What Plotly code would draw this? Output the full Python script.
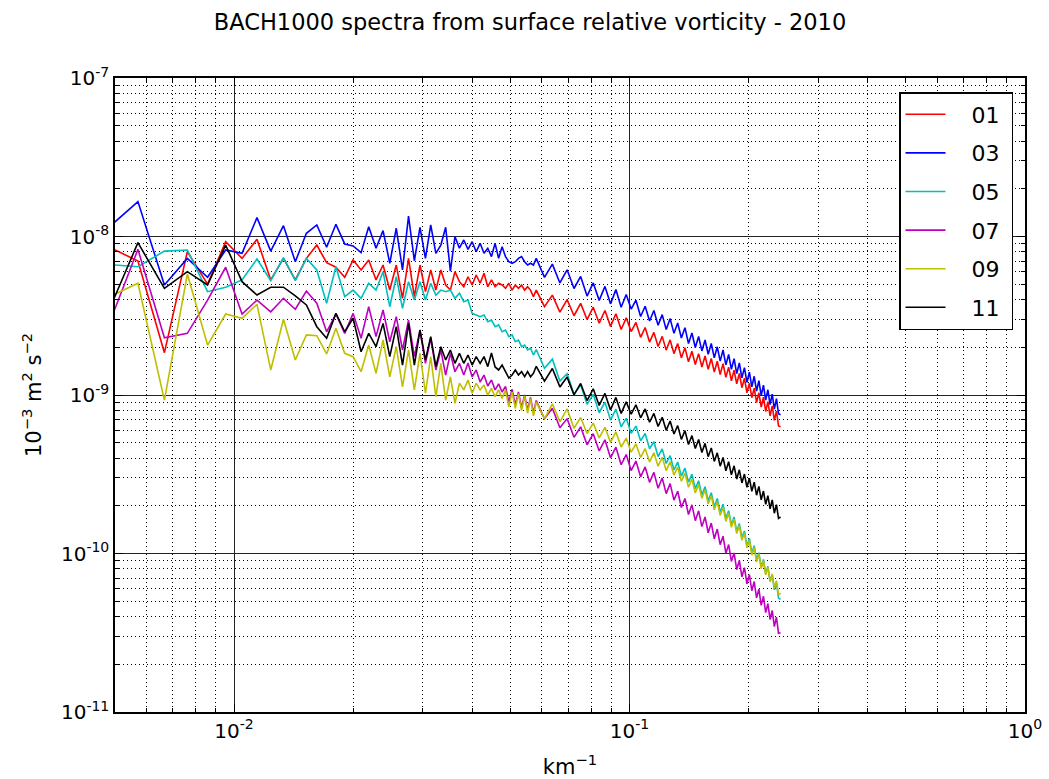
import numpy as np
import plotly.graph_objects as go

# ---------------- data ----------------
k_step = 1.0 / 1050.0            # km^-1 per wavenumber index
wavenumber_index = list(range(5, 61)) + list(range(61, 254, 3))

months = ["01", "03", "05", "07", "09", "11"]
colors = ["#ff0000", "#0000ff", "#00bfbf", "#bf00bf", "#bfbf00", "#000000"]

# log10 of spectral density (10^-3 m^2 s^-2)
log10_spec_01 = [
    -8.059, -8.155, -8.733, -8.096, -8.300, -8.033, -8.138, -8.018, -8.274, -8.138,
    -8.274, -8.138, -8.054, -8.165, -8.194, -8.257, -8.148, -8.211, -8.148, -8.274,
    -8.180, -8.338, -8.180, -8.390, -8.138, -8.380, -8.180, -8.348, -8.211, -8.338,
    -8.211, -8.306, -8.338, -8.222, -8.285, -8.317, -8.254, -8.306, -8.243, -8.295,
    -8.232, -8.317, -8.274, -8.317, -8.295, -8.306, -8.327, -8.295, -8.338, -8.306,
    -8.327, -8.306, -8.338, -8.317, -8.338, -8.380,
    -8.338, -8.443, -8.370, -8.477, -8.398, -8.500, -8.422, -8.524, -8.446, -8.547,
    -8.467, -8.567, -8.487, -8.587, -8.513, -8.600, -8.542, -8.636, -8.574, -8.666,
    -8.605, -8.694, -8.630, -8.717, -8.652, -8.739, -8.676, -8.765, -8.702, -8.790,
    -8.724, -8.808, -8.739, -8.823, -8.754, -8.838, -8.770, -8.855, -8.787, -8.871,
    -8.803, -8.889, -8.824, -8.910, -8.844, -8.930, -8.864, -8.954, -8.894, -8.986,
    -8.926, -9.017, -8.957, -9.047, -8.986, -9.076, -9.014, -9.104, -9.042, -9.131,
    -9.069, -9.160, -9.101, -9.195, -9.200,
]
log10_spec_03 = [
    -7.954, -7.780, -8.306, -8.138, -8.257, -8.085, -8.106, -7.881, -8.092, -7.932,
    -8.159, -7.980, -7.927, -8.068, -7.923, -8.047, -8.060, -8.102, -7.938, -8.074,
    -7.963, -8.169, -7.948, -8.211, -7.871, -8.153, -7.942, -8.138, -7.927, -8.106,
    -8.054, -7.942, -8.218, -8.001, -8.074, -8.022, -8.081, -8.033, -8.096, -8.043,
    -8.106, -8.074, -8.127, -8.043, -8.138, -8.064, -8.127, -8.159, -8.169, -8.159,
    -8.138, -8.127, -8.159, -8.180, -8.169, -8.180,
    -8.138, -8.258, -8.174, -8.293, -8.210, -8.328, -8.252, -8.376, -8.293, -8.403,
    -8.315, -8.425, -8.335, -8.446, -8.366, -8.458, -8.402, -8.505, -8.440, -8.533,
    -8.467, -8.560, -8.493, -8.587, -8.518, -8.611, -8.546, -8.640, -8.575, -8.675,
    -8.609, -8.700, -8.631, -8.722, -8.653, -8.743, -8.675, -8.766, -8.696, -8.786,
    -8.716, -8.810, -8.744, -8.838, -8.771, -8.865, -8.798, -8.892, -8.827, -8.921,
    -8.855, -8.948, -8.882, -8.975, -8.910, -9.004, -8.938, -9.032, -8.967, -9.060,
    -8.995, -9.089, -9.023, -9.118, -9.125,
]
log10_spec_05 = [
    -8.176, -8.191, -8.092, -8.085, -8.348, -8.320, -8.274, -8.142, -8.279, -8.134,
    -8.279, -8.138, -8.211, -8.421, -8.191, -8.380, -8.338, -8.390, -8.295, -8.338,
    -8.222, -8.443, -8.254, -8.453, -8.285, -8.401, -8.285, -8.401, -8.295, -8.369,
    -8.338, -8.348, -8.338, -8.390, -8.358, -8.411, -8.401, -8.485, -8.495, -8.506,
    -8.495, -8.538, -8.527, -8.569, -8.558, -8.601, -8.590, -8.632, -8.621, -8.664,
    -8.653, -8.695, -8.685, -8.716, -8.705, -8.748,
    -8.713, -8.831, -8.774, -8.912, -8.866, -8.995, -8.937, -9.059, -8.996, -9.112,
    -9.045, -9.158, -9.089, -9.201, -9.147, -9.242, -9.196, -9.289, -9.243, -9.339,
    -9.295, -9.388, -9.340, -9.432, -9.383, -9.473, -9.423, -9.512, -9.461, -9.550,
    -9.500, -9.591, -9.541, -9.630, -9.579, -9.668, -9.617, -9.705, -9.653, -9.741,
    -9.689, -9.779, -9.730, -9.820, -9.770, -9.861, -9.811, -9.899, -9.858, -9.952,
    -9.905, -9.998, -9.951, -10.042, -9.995, -10.086, -10.037, -10.128, -10.081, -10.176,
    -10.133, -10.229, -10.185, -10.281, -10.290,
]
log10_spec_07 = [
    -8.592, -8.081, -8.639, -8.611, -8.401, -8.194, -8.489, -8.401, -8.475, -8.390,
    -8.459, -8.344, -8.421, -8.601, -8.489, -8.611, -8.485, -8.642, -8.443, -8.632,
    -8.464, -8.664, -8.506, -8.716, -8.527, -8.758, -8.590, -8.800, -8.642, -8.842,
    -8.716, -8.874, -8.737, -8.853, -8.800, -8.874, -8.798, -8.886, -8.842, -8.918,
    -8.874, -8.943, -8.905, -8.968, -8.930, -8.981, -8.946, -9.045, -8.964, -9.064,
    -8.980, -9.081, -8.999, -9.097, -9.015, -9.114,
    -9.035, -9.150, -9.084, -9.207, -9.149, -9.267, -9.201, -9.314, -9.244, -9.353,
    -9.283, -9.396, -9.329, -9.440, -9.376, -9.477, -9.417, -9.516, -9.454, -9.551,
    -9.488, -9.588, -9.524, -9.622, -9.559, -9.663, -9.607, -9.710, -9.653, -9.754,
    -9.693, -9.793, -9.731, -9.830, -9.769, -9.869, -9.808, -9.907, -9.846, -9.944,
    -9.891, -9.998, -9.944, -10.050, -9.996, -10.101, -10.044, -10.147, -10.089, -10.191,
    -10.134, -10.235, -10.177, -10.280, -10.225, -10.327, -10.270, -10.373, -10.316, -10.416,
    -10.360, -10.461, -10.402, -10.503, -10.500,
]
log10_spec_09 = [
    -8.388, -8.295, -9.032, -8.237, -8.685, -8.489, -8.516, -8.428, -8.842, -8.522,
    -8.779, -8.621, -8.626, -8.741, -8.579, -8.737, -8.758, -8.853, -8.685, -8.863,
    -8.653, -8.885, -8.695, -8.948, -8.716, -8.968, -8.737, -8.989, -8.758, -9.011,
    -8.800, -9.032, -8.885, -9.052, -8.926, -8.968, -8.905, -8.989, -8.926, -8.968,
    -8.937, -9.000, -8.958, -9.011, -8.968, -9.021, -8.969, -9.075, -8.982, -9.085,
    -8.991, -9.099, -9.007, -9.115, -9.022, -9.132,
    -9.043, -9.151, -9.056, -9.169, -9.088, -9.210, -9.142, -9.243, -9.177, -9.271,
    -9.204, -9.299, -9.233, -9.328, -9.272, -9.361, -9.309, -9.394, -9.338, -9.422,
    -9.365, -9.449, -9.393, -9.477, -9.421, -9.505, -9.455, -9.544, -9.493, -9.582,
    -9.530, -9.618, -9.565, -9.652, -9.599, -9.687, -9.636, -9.724, -9.672, -9.760,
    -9.708, -9.797, -9.745, -9.835, -9.784, -9.874, -9.824, -9.917, -9.871, -9.964,
    -9.918, -10.011, -9.963, -10.054, -10.005, -10.095, -10.045, -10.135, -10.086, -10.177,
    -10.129, -10.220, -10.171, -10.262, -10.250,
]
log10_spec_11 = [
    -8.501, -8.039, -8.327, -8.222, -8.306, -8.054, -8.285, -8.369, -8.320, -8.320,
    -8.375, -8.432, -8.569, -8.642, -8.485, -8.601, -8.516, -8.727, -8.611, -8.695,
    -8.548, -8.758, -8.569, -8.811, -8.548, -8.811, -8.590, -8.779, -8.632, -8.821,
    -8.695, -8.779, -8.716, -8.800, -8.737, -8.800, -8.748, -8.811, -8.758, -8.800,
    -8.758, -8.821, -8.735, -8.823, -8.842, -8.811, -8.853, -8.893, -8.874, -8.842,
    -8.874, -8.853, -8.885, -8.853, -8.885, -8.863,
    -8.819, -8.913, -8.833, -8.949, -8.887, -8.999, -8.927, -9.035, -8.961, -9.066,
    -8.990, -9.094, -9.015, -9.116, -9.043, -9.121, -9.062, -9.144, -9.088, -9.172,
    -9.116, -9.199, -9.141, -9.223, -9.164, -9.246, -9.193, -9.280, -9.225, -9.312,
    -9.256, -9.338, -9.281, -9.363, -9.305, -9.389, -9.334, -9.419, -9.365, -9.449,
    -9.394, -9.478, -9.421, -9.504, -9.447, -9.530, -9.472, -9.555, -9.499, -9.582,
    -9.525, -9.608, -9.550, -9.632, -9.577, -9.661, -9.606, -9.690, -9.635, -9.718,
    -9.662, -9.746, -9.692, -9.778, -9.770,
]

x_tick_vals = [0.01, 0.1, 1.0]
x_tick_text = ["10<sup>-2</sup>", "10<sup>-1</sup>", "10<sup>0</sup>"]
y_tick_vals = [1e-11, 1e-10, 1e-9, 1e-8, 1e-7]
y_tick_text = ["10<sup>-11</sup>", "10<sup>-10</sup>", "10<sup>-9</sup>",
               "10<sup>-8</sup>", "10<sup>-7</sup>"]

# ---------------- figure ----------------
series = [log10_spec_01, log10_spec_03, log10_spec_05,
          log10_spec_07, log10_spec_09, log10_spec_11]
k = np.array(wavenumber_index) * k_step

FONT = "DejaVu Sans"
NB = "\u00a0"
fig = go.Figure()
for m, c, s in zip(months, colors, series):
    fig.add_trace(go.Scatter(
        x=k, y=10.0 ** np.array(s), mode="lines",
        line=dict(color=c, width=1.6),
        name=NB * 3 + m + NB, legendgroup=m,
    ))

x_minor = [m * 10.0 ** e for e in (-3, -2, -1) for m in range(2, 10)]
y_minor = [m * 10.0 ** e for e in (-11, -10, -9, -8) for m in range(2, 10)]

axis_common = dict(
    type="log", showline=True, linecolor="black", linewidth=1.5,
    mirror="allticks", ticks="inside", ticklen=8, tickwidth=1,
    tickcolor="black", showgrid=True, gridcolor="#222222", gridwidth=0.8,
    tickfont=dict(family=FONT, size=20, color="black"),
    zeroline=False, tickmode="array", automargin=False,
)
minor_common = dict(tickmode="array", ticks="inside", ticklen=4,
                    tickcolor="black", showgrid=True, gridcolor="#000000",
                    gridwidth=1, griddash="1px,3px")

fig.update_xaxes(
    **axis_common,
    range=[np.log10(0.005), 0.0],
    tickvals=x_tick_vals, ticktext=x_tick_text,
    minor=dict(tickvals=x_minor, **minor_common),
    title=dict(text="km<sup>\u22121</sup>", standoff=20,
               font=dict(family=FONT, size=21, color="black")),
)
fig.update_yaxes(
    **axis_common,
    range=[-11, -7],
    tickvals=y_tick_vals, ticktext=y_tick_text,
    minor=dict(tickvals=y_minor, **minor_common),
    title=dict(text="10<sup>\u22123</sup> m<sup>2</sup> s<sup>\u22122</sup>",
               standoff=14, font=dict(family=FONT, size=21, color="black")),
)

fig.update_layout(
    width=1049, height=779,
    margin=dict(l=115, r=24, t=78, b=67),
    paper_bgcolor="white", plot_bgcolor="white",
    font=dict(family=FONT, color="black"),
    title=dict(text="BACH1000 spectra from surface relative vorticity - 2010",
               x=530 / 1049, xref="container", xanchor="center",
               y=1 - 22 / 779, yref="container", yanchor="middle",
               font=dict(family=FONT, size=22.5, color="black")),
    legend=dict(x=(1013 - 115) / 910, xanchor="right",
                y=(712 - 92) / 634, yanchor="top",
                bgcolor="white", bordercolor="black", borderwidth=1.5,
                font=dict(family=FONT, size=22, color="black"),
                tracegroupgap=7, itemwidth=40),
    showlegend=True,
)

fig.write_html(
    "out.html",
    config={"displayModeBar": False},
    post_script="document.body.style.margin='0';document.body.style.padding='0';",
)
